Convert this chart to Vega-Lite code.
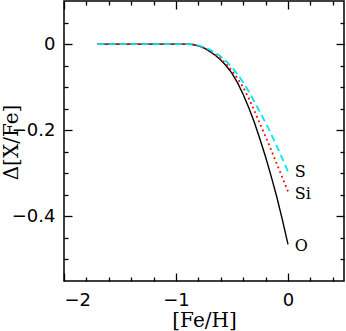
{
  "$schema": "https://vega.github.io/schema/vega-lite/v6.json",
  "width": 280,
  "height": 280,
  "autosize": {"type": "none"},
  "padding": {"left": 64, "top": 1, "right": 2, "bottom": 50},
  "background": "white",
  "config": {
    "view": {"stroke": "black", "strokeWidth": 1.5},
    "axis": {"grid": false, "domain": false, "tickColor": "black", "tickWidth": 1.3, "labelColor": "black", "labelFont": "DejaVu Sans", "labelFontSize": 18, "titleColor": "black", "titleFont": "DejaVu Serif", "titleFontSize": 20, "titleFontWeight": "normal"}
  },
  "datasets": {
    "curves": [
      {"el": "O", "x": -1.7, "y": 0}, {"el": "O", "x": -1.5, "y": 0}, {"el": "O", "x": -1.3, "y": 0}, {"el": "O", "x": -1.1, "y": 0}, {"el": "O", "x": -0.95, "y": 0}, {"el": "O", "x": -0.9, "y": 0},
      {"el": "O", "x": -0.85, "y": -0.001}, {"el": "O", "x": -0.8, "y": -0.004}, {"el": "O", "x": -0.75, "y": -0.009}, {"el": "O", "x": -0.7, "y": -0.017}, {"el": "O", "x": -0.65, "y": -0.026}, {"el": "O", "x": -0.6, "y": -0.037}, {"el": "O", "x": -0.55, "y": -0.051}, {"el": "O", "x": -0.5, "y": -0.068}, {"el": "O", "x": -0.45, "y": -0.09}, {"el": "O", "x": -0.4, "y": -0.117}, {"el": "O", "x": -0.35, "y": -0.148}, {"el": "O", "x": -0.3, "y": -0.182}, {"el": "O", "x": -0.25, "y": -0.221}, {"el": "O", "x": -0.2, "y": -0.262}, {"el": "O", "x": -0.15, "y": -0.307}, {"el": "O", "x": -0.1, "y": -0.355}, {"el": "O", "x": -0.05, "y": -0.408}, {"el": "O", "x": 0, "y": -0.465},
      {"el": "Si", "x": -1.7, "y": 0}, {"el": "Si", "x": -1.5, "y": 0}, {"el": "Si", "x": -1.3, "y": 0}, {"el": "Si", "x": -1.1, "y": 0}, {"el": "Si", "x": -0.95, "y": 0}, {"el": "Si", "x": -0.9, "y": 0},
      {"el": "Si", "x": -0.85, "y": -0.001}, {"el": "Si", "x": -0.8, "y": -0.004}, {"el": "Si", "x": -0.75, "y": -0.009}, {"el": "Si", "x": -0.7, "y": -0.016}, {"el": "Si", "x": -0.65, "y": -0.024}, {"el": "Si", "x": -0.6, "y": -0.034}, {"el": "Si", "x": -0.55, "y": -0.047}, {"el": "Si", "x": -0.5, "y": -0.062}, {"el": "Si", "x": -0.45, "y": -0.08}, {"el": "Si", "x": -0.4, "y": -0.1}, {"el": "Si", "x": -0.35, "y": -0.126}, {"el": "Si", "x": -0.3, "y": -0.155}, {"el": "Si", "x": -0.25, "y": -0.185}, {"el": "Si", "x": -0.2, "y": -0.215}, {"el": "Si", "x": -0.15, "y": -0.246}, {"el": "Si", "x": -0.1, "y": -0.278}, {"el": "Si", "x": -0.05, "y": -0.31}, {"el": "Si", "x": 0, "y": -0.342},
      {"el": "S", "x": -1.7, "y": 0}, {"el": "S", "x": -1.5, "y": 0}, {"el": "S", "x": -1.3, "y": 0}, {"el": "S", "x": -1.1, "y": 0}, {"el": "S", "x": -0.95, "y": 0}, {"el": "S", "x": -0.9, "y": 0},
      {"el": "S", "x": -0.85, "y": -0.001}, {"el": "S", "x": -0.8, "y": -0.003}, {"el": "S", "x": -0.75, "y": -0.007}, {"el": "S", "x": -0.7, "y": -0.013}, {"el": "S", "x": -0.65, "y": -0.02}, {"el": "S", "x": -0.6, "y": -0.029}, {"el": "S", "x": -0.55, "y": -0.04}, {"el": "S", "x": -0.5, "y": -0.054}, {"el": "S", "x": -0.45, "y": -0.07}, {"el": "S", "x": -0.4, "y": -0.089}, {"el": "S", "x": -0.35, "y": -0.11}, {"el": "S", "x": -0.3, "y": -0.134}, {"el": "S", "x": -0.25, "y": -0.158}, {"el": "S", "x": -0.2, "y": -0.183}, {"el": "S", "x": -0.15, "y": -0.209}, {"el": "S", "x": -0.1, "y": -0.237}, {"el": "S", "x": -0.05, "y": -0.266}, {"el": "S", "x": 0, "y": -0.296}
    ],
    "labels": [
      {"el": "S", "x": 0.06, "y": -0.298},
      {"el": "Si", "x": 0.06, "y": -0.349},
      {"el": "O", "x": 0.06, "y": -0.469}
    ]
  },
  "resolve": {"axis": {"x": "independent", "y": "independent"}},
  "layer": [
    {
      "data": {"name": "curves"},
      "transform": [{"filter": "datum.el === 'O'"}],
      "mark": {"type": "line", "color": "black", "strokeWidth": 1.4},
      "encoding": {
        "x": {"field": "x", "type": "quantitative", "scale": {"domain": [-2, 0.5], "nice": false, "zero": false},
          "axis": {"orient": "bottom", "values": [-2, -1, 0], "format": "~g", "tickSize": -8, "labelPadding": 18, "title": "[Fe/H]", "titleX": 140, "titleY": 39, "titleBaseline": "middle", "titleAlign": "center"}},
        "y": {"field": "y", "type": "quantitative", "scale": {"domain": [-0.55, 0.1], "nice": false, "zero": false},
          "axis": {"orient": "left", "values": [-0.4, -0.2, 0], "format": "~g", "tickSize": -8, "labelPadding": 17, "title": "Δ[X/Fe]", "titleX": -53, "titleY": 141, "titleAngle": -90, "titleBaseline": "middle", "titleAlign": "center"}},
        "order": {"field": "x", "type": "quantitative"}
      }
    },
    {
      "data": {"name": "curves"},
      "transform": [{"filter": "datum.el === 'Si'"}],
      "mark": {"type": "line", "color": "#ff0000", "strokeWidth": 1.8, "strokeDash": [1.8, 3.2]},
      "encoding": {
        "x": {"field": "x", "type": "quantitative", "scale": {"domain": [-2, 0.5], "nice": false, "zero": false},
          "axis": {"orient": "bottom", "values": [-1.8, -1.6, -1.4, -1.2, -0.8, -0.6, -0.4, -0.2, 0.2, 0.4], "tickSize": -4, "labels": false, "title": null}},
        "y": {"field": "y", "type": "quantitative", "scale": {"domain": [-0.55, 0.1], "nice": false, "zero": false},
          "axis": {"orient": "left", "values": [-0.5, -0.45, -0.35, -0.3, -0.25, -0.15, -0.1, -0.05, 0.05], "tickSize": -4, "labels": false, "title": null}},
        "order": {"field": "x", "type": "quantitative"}
      }
    },
    {
      "data": {"name": "curves"},
      "transform": [{"filter": "datum.el === 'S'"}],
      "mark": {"type": "line", "color": "#00e5ee", "strokeWidth": 1.8, "strokeDash": [7, 4]},
      "encoding": {
        "x": {"field": "x", "type": "quantitative", "scale": {"domain": [-2, 0.5], "nice": false, "zero": false},
          "axis": {"orient": "top", "values": [-2, -1, 0], "tickSize": -8, "labels": false, "title": null}},
        "y": {"field": "y", "type": "quantitative", "scale": {"domain": [-0.55, 0.1], "nice": false, "zero": false},
          "axis": {"orient": "right", "values": [-0.4, -0.2, 0], "tickSize": -8, "labels": false, "title": null}},
        "order": {"field": "x", "type": "quantitative"}
      }
    },
    {
      "data": {"name": "labels"},
      "mark": {"type": "text", "align": "left", "baseline": "middle", "font": "DejaVu Serif", "fontSize": 16, "color": "black"},
      "encoding": {
        "x": {"field": "x", "type": "quantitative", "scale": {"domain": [-2, 0.5], "nice": false, "zero": false},
          "axis": {"orient": "top", "values": [-1.8, -1.6, -1.4, -1.2, -0.8, -0.6, -0.4, -0.2, 0.2, 0.4], "tickSize": -4, "labels": false, "title": null}},
        "y": {"field": "y", "type": "quantitative", "scale": {"domain": [-0.55, 0.1], "nice": false, "zero": false},
          "axis": {"orient": "right", "values": [-0.5, -0.45, -0.35, -0.3, -0.25, -0.15, -0.1, -0.05, 0.05], "tickSize": -4, "labels": false, "title": null}},
        "text": {"field": "el", "type": "nominal"}
      }
    }
  ]
}
